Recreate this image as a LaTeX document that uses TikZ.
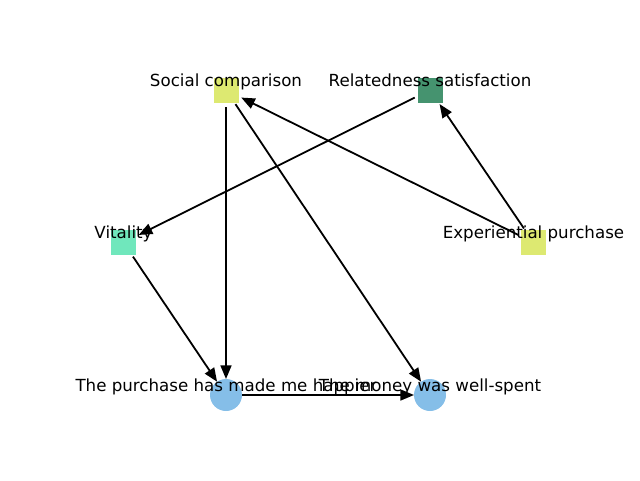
\documentclass[tikz,border=0pt]{standalone}
\usepackage{fontspec}
\setmainfont{DejaVu Sans}
\usetikzlibrary{arrows.meta}
\definecolor{cyel}{RGB}{221,233,113}
\definecolor{cdg}{RGB}{69,147,111}
\definecolor{cmint}{RGB}{112,231,188}
\definecolor{cblue}{RGB}{133,190,232}
\begin{document}
\begin{tikzpicture}[x=0.75pt,y=-0.75pt,
  sqnode/.style={circle, minimum size=25.5pt, inner sep=0pt, outer sep=0pt,
    label={[fill=#1, minimum size=18.75pt, inner sep=0pt, outer sep=0pt, anchor=center]center:{}}},
  cnode/.style={circle, minimum size=24pt, inner sep=0pt, outer sep=0pt, fill=cblue},
  lbl/.style={anchor=base, inner sep=0pt, font=\fontsize{12.5}{15}\selectfont},
  edge/.style={line width=1.35pt, -{Triangle[length=10.2pt,width=8.2pt]}}]
\useasboundingbox (0,0) rectangle (640,480);
% nodes
\node[sqnode=cyel] (sc) at (226,90) {};
\node[sqnode=cdg] (rel) at (430,90) {};
\node[sqnode=cmint] (vit) at (123.5,242.5) {};
\node[sqnode=cyel] (exp) at (533.5,242.5) {};
\node[cnode] (hap) at (226,395) {};
\node[cnode] (mon) at (430,395) {};
% edges
\draw[edge] (sc) -- (hap);
\draw[edge] (sc) -- (mon);
\draw[edge] (rel) -- (vit);
\draw[edge] (exp) -- (sc);
\draw[edge] (exp) -- (rel);
\draw[edge] (vit) -- (hap);
\draw[edge] (hap) -- (mon);
% labels
\node[lbl] (lsc) at (226,86.5) {Social comparison};
\node[lbl] (lrel) at (430,86.5) {Relatedness satisfaction};
\node[lbl] (lvit) at (123.5,238.5) {Vitality};
\node[lbl] (lexp) at (533.5,238.5) {Experiential purchase};
\node[lbl] (lhap) at (226,391.5) {The purchase has made me happier};
\node[lbl] (lmon) at (430,391.5) {The money was well-spent};
\end{tikzpicture}
\end{document}
